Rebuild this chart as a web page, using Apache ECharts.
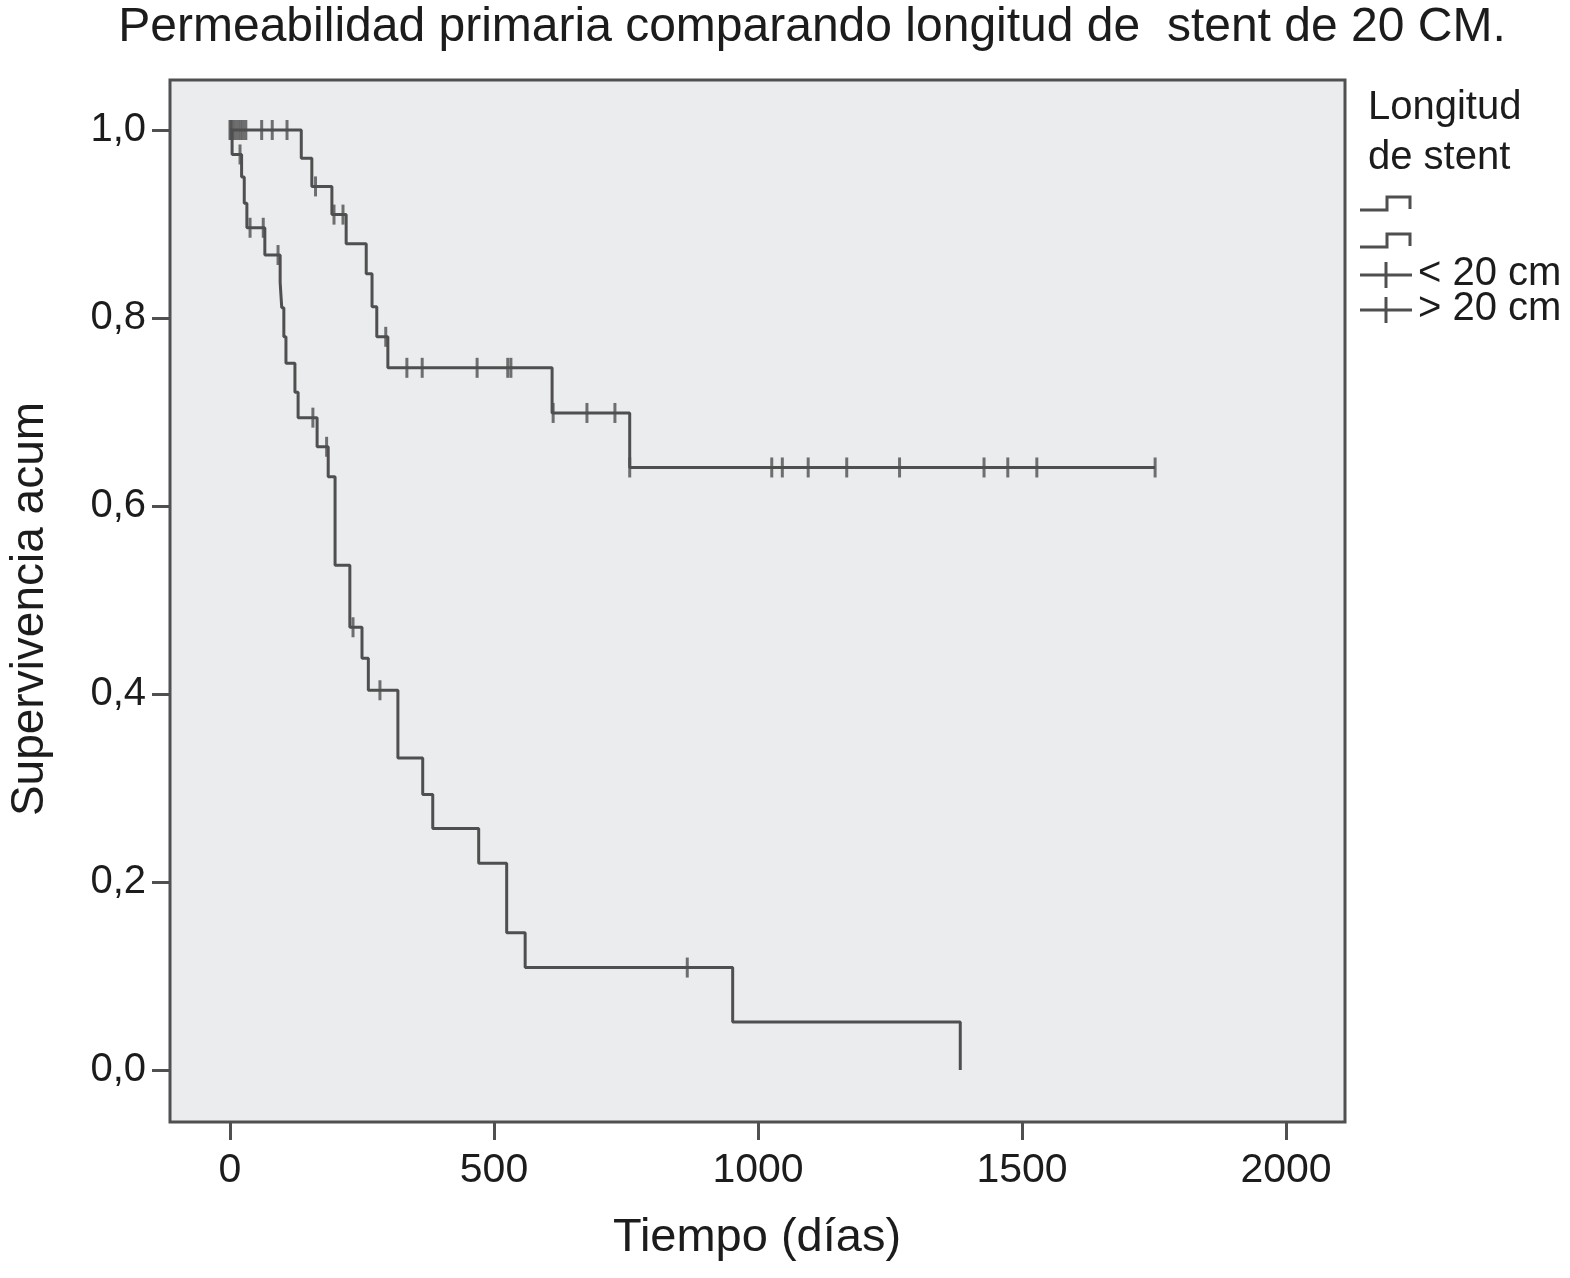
<!DOCTYPE html>
<html><head><meta charset="utf-8">
<script src="https://cdn.jsdelivr.net/npm/echarts@6/dist/echarts.min.js"></script>
<style>html,body{margin:0;padding:0;background:#fff}#c{width:1570px;height:1278px}</style>
</head><body><div id="c"></div>
<script>
// ---- data ----
const titleText = 'Permeabilidad primaria comparando longitud de  stent de 20 CM.';
const xAxisName = 'Tiempo (días)';
const yAxisName = 'Supervivencia acum';
const legendTitle = ['Longitud', 'de stent'];
const groupNames = ['< 20 cm', '> 20 cm'];
const xTicks = [0, 500, 1000, 1500, 2000];
const yTicks = [0, 0.2, 0.4, 0.6, 0.8, 1.0];

// group < 20 cm (upper curve): step times and cumulative survival
const shortTimes = [0, 135, 155, 193, 220, 258, 269, 278, 299, 610, 757, 1752];
const shortSurv  = [1.0, 0.970, 0.940, 0.910, 0.879, 0.847, 0.812, 0.780, 0.747, 0.699, 0.641, 0.641];
const shortCensor = [5, 10, 15, 20, 25, 30, 60, 80, 108, 162, 197, 214, 295, 335, 364, 468, 526, 532,
                     612, 676, 729, 757, 1026, 1046, 1095, 1168, 1268, 1428, 1473, 1528, 1752];

// group > 20 cm (lower curve)
const longTimes = [0, 4, 22, 27, 32, 66, 95, 98, 102, 106, 123, 129, 165, 186, 199, 227, 250, 262, 318, 365, 384, 471, 524, 559, 952, 1383];
const longSurv  = [1.0, 0.974, 0.950, 0.922, 0.896, 0.867, 0.838, 0.811, 0.780, 0.752, 0.721, 0.694, 0.663, 0.631, 0.537, 0.471, 0.438, 0.404, 0.332, 0.293, 0.257, 0.220, 0.146, 0.109, 0.051, 0.0];
const longCensor = [0, 2, 19, 38, 63, 91, 157, 183, 233, 284, 866];

// ---- chart ----
const FONT = '"Liberation Sans", Arial, Helvetica, sans-serif';
const LINE = '#4f4f4f';
const TXT = '#1c1c1c';

function survAt(times, surv, t) {
  let v = surv[0];
  for (let i = 0; i < times.length; i++) { if (times[i] <= t) v = surv[i]; }
  return v;
}
const pairs = (ts, ss) => ts.map((t, i) => [t, ss[i]]);
const censorPts = (cs, ts, ss) => cs.map(t => [t, survAt(ts, ss, t)]);

const chart = echarts.init(document.getElementById('c'), null, {renderer: 'canvas'});

const legendX = 1360;
const graphics = [
  {type: 'text', x: 812, y: 28, style: {text: titleText, fontSize: 48, fontFamily: FONT, fill: TXT, align: 'center', verticalAlign: 'middle'}},
  {type: 'text', x: 757, y: 1238, style: {text: xAxisName, fontSize: 47, fontFamily: FONT, fill: TXT, align: 'center', verticalAlign: 'middle'}},
  {type: 'text', x: 30, y: 609, rotation: Math.PI / 2, style: {text: yAxisName, fontSize: 46, fontFamily: FONT, fill: TXT, align: 'center', verticalAlign: 'middle'}},
  {type: 'text', x: 1368, y: 108, style: {text: legendTitle[0], fontSize: 40, fontFamily: FONT, fill: TXT, align: 'left', verticalAlign: 'middle'}},
  {type: 'text', x: 1368, y: 158, style: {text: legendTitle[1], fontSize: 40, fontFamily: FONT, fill: TXT, align: 'left', verticalAlign: 'middle'}},
  {type: 'polyline', shape: {points: [[legendX, 210], [1387, 210], [1387, 197], [1410, 197], [1410, 209]]}, style: {stroke: LINE, lineWidth: 3, fill: null}},
  {type: 'polyline', shape: {points: [[legendX, 247], [1387, 247], [1387, 234], [1410, 234], [1410, 246]]}, style: {stroke: LINE, lineWidth: 3, fill: null}},
  {type: 'line', shape: {x1: legendX, y1: 275, x2: 1412, y2: 275}, style: {stroke: LINE, lineWidth: 3}},
  {type: 'line', shape: {x1: 1386, y1: 262, x2: 1386, y2: 288}, style: {stroke: LINE, lineWidth: 3}},
  {type: 'text', x: 1418, y: 274, style: {text: groupNames[0], fontSize: 40, fontFamily: FONT, fill: TXT, align: 'left', verticalAlign: 'middle'}},
  {type: 'line', shape: {x1: legendX, y1: 310, x2: 1412, y2: 310}, style: {stroke: LINE, lineWidth: 3}},
  {type: 'line', shape: {x1: 1386, y1: 297, x2: 1386, y2: 323}, style: {stroke: LINE, lineWidth: 3}},
  {type: 'text', x: 1418, y: 309, style: {text: groupNames[1], fontSize: 40, fontFamily: FONT, fill: TXT, align: 'left', verticalAlign: 'middle'}}
];

const option = {
  animation: false,
  backgroundColor: '#ffffff',
  grid: {left: 170, top: 80, width: 1175, height: 1042, show: true, backgroundColor: '#ebecee', borderColor: '#505050', borderWidth: 3},
  xAxis: {
    type: 'value', min: -113.6, max: 2111.6, position: 'bottom',
    axisLine: {show: false, onZero: false},
    splitLine: {show: false},
    axisTick: {show: true, inside: false, length: 18, customValues: xTicks, lineStyle: {color: '#505050', width: 3}},
    axisLabel: {customValues: xTicks, fontSize: 41, fontFamily: FONT, color: TXT, margin: 28,
      formatter: v => String(Math.round(v))}
  },
  yAxis: {
    type: 'value', min: -0.0553, max: 1.0532, position: 'left',
    axisLine: {show: false, onZero: false},
    splitLine: {show: false},
    axisTick: {show: true, inside: false, length: 18, customValues: yTicks, lineStyle: {color: '#505050', width: 3}},
    axisLabel: {customValues: yTicks, fontSize: 40, fontFamily: FONT, color: TXT, margin: 24,
      formatter: v => v.toFixed(1).replace('.', ',')}
  },
  graphic: graphics,
  series: [
    {name: groupNames[0], type: 'line', step: 'end', data: pairs(shortTimes, shortSurv), showSymbol: false, symbol: 'none',
     lineStyle: {color: LINE, width: 3}, z: 3},
    {name: groupNames[1], type: 'line', step: 'end', data: pairs(longTimes, longSurv), showSymbol: false, symbol: 'none',
     lineStyle: {color: LINE, width: 3}, z: 3},
    {name: groupNames[0] + ' censurado', type: 'scatter', data: censorPts(shortCensor, shortTimes, shortSurv),
     symbol: 'rect', symbolSize: [3, 20], itemStyle: {color: LINE}, z: 4},
    {name: groupNames[1] + ' censurado', type: 'scatter', data: censorPts(longCensor, longTimes, longSurv),
     symbol: 'rect', symbolSize: [3, 20], itemStyle: {color: LINE}, z: 4}
  ]
};
chart.setOption(option);
</script>
</body></html>
